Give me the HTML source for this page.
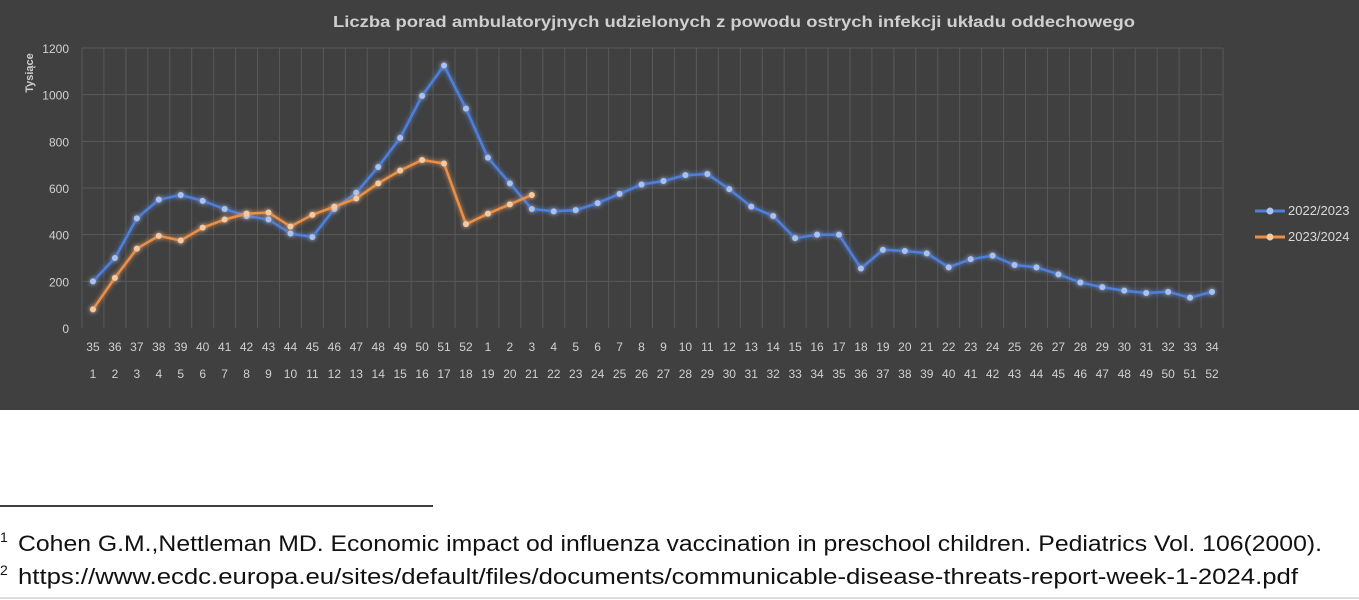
<!DOCTYPE html>
<html><head><meta charset="utf-8"><style>
html,body{margin:0;padding:0;background:#fff;width:1359px;height:600px;overflow:hidden}
svg{display:block}
</style></head><body>
<svg id="s" width="1359" height="600" xmlns="http://www.w3.org/2000/svg" font-family="Liberation Sans, sans-serif">
<defs><filter id="g" x="-5%" y="-5%" width="110%" height="110%"><feGaussianBlur stdDeviation="2.5" result="b"/><feMerge><feMergeNode in="b"/><feMergeNode in="SourceGraphic"/></feMerge></filter></defs>
<rect x="0" y="0" width="1359" height="410" fill="#404040"/>
<text x="333" y="27" fill="#cfcfcf" font-size="16" font-weight="bold" textLength="802" lengthAdjust="spacingAndGlyphs">Liczba porad ambulatoryjnych udzielonych z powodu ostrych infekcji układu oddechowego</text>
<text transform="translate(33,73) rotate(-90)" text-anchor="middle" fill="#cfcfcf" font-size="11" font-weight="bold">Tysiące</text>
<g id="grid"></g>
<g id="ser"></g>
<g font-size="13" fill="#d9d9d9">
<line x1="1255" y1="211" x2="1285" y2="211" stroke="#4f7fd8" stroke-width="3"/><circle cx="1270" cy="211" r="3.5" fill="#a9c1f0"/>
<text x="1288" y="215">2022/2023</text>
<line x1="1255" y1="237" x2="1285" y2="237" stroke="#e8904a" stroke-width="3"/><circle cx="1270" cy="237" r="3.5" fill="#f7c9a0"/>
<text x="1288" y="241">2023/2024</text>
</g>
<line x1="0" y1="506" x2="433" y2="506" stroke="#000" stroke-width="1.5"/>
<g font-size="22" fill="#111">
<text x="0" y="542" font-size="14">1</text>
<text x="18" y="551" textLength="1304" lengthAdjust="spacingAndGlyphs">Cohen G.M.,Nettleman MD. Economic impact od influenza vaccination in preschool children. Pediatrics Vol. 106(2000).</text>
<text x="0" y="575" font-size="14">2</text>
<text x="18" y="584" textLength="1280" lengthAdjust="spacingAndGlyphs">https://www.ecdc.europa.eu/sites/default/files/documents/communicable-disease-threats-report-week-1-2024.pdf</text>
</g>
<line x1="0" y1="598" x2="1359" y2="598" stroke="#bbb" stroke-width="1"/>
</svg>
<script>
var NS="http://www.w3.org/2000/svg";
function el(p,t,a,txt){var e=document.createElementNS(NS,t);for(var k in a)e.setAttribute(k,a[k]);if(txt!==undefined)e.textContent=txt;p.appendChild(e);return e;}
var grid=document.getElementById('grid'),ser=document.getElementById('ser');
var x0=82,x1=1223,n=52,dx=(x1-x0)/n;
function X(i){return x0+dx*(i+0.5);}
function Y(v){return 328-v*280/1200;}
for(var v=0;v<=1200;v+=200){
 if(v>0)el(grid,'line',{x1:x0,x2:x1,y1:Y(v),y2:Y(v),stroke:'#595959','stroke-width':1});
 el(grid,'text',{x:69,y:Y(v)+5,'text-anchor':'end',fill:'#d0d0d0','font-size':12},v);
}
for(var i=0;i<=n;i++)el(grid,'line',{x1:x0+dx*i,x2:x0+dx*i,y1:Y(1200),y2:328,stroke:'#595959','stroke-width':1});
var w1=[35,36,37,38,39,40,41,42,43,44,45,46,47,48,49,50,51,52,1,2,3,4,5,6,7,8,9,10,11,12,13,14,15,16,17,18,19,20,21,22,23,24,25,26,27,28,29,30,31,32,33,34];
for(var i=0;i<n;i++){
 el(grid,'text',{x:X(i),y:351,'text-anchor':'middle',fill:'#d0d0d0','font-size':12},w1[i]);
 el(grid,'text',{x:X(i),y:378,'text-anchor':'middle',fill:'#d0d0d0','font-size':12},i+1);
}
var b=[200,300,470,550,570,545,510,480,465,405,390,510,580,690,815,995,1125,940,730,620,510,500,505,535,575,615,630,655,660,595,520,480,385,400,400,255,335,330,320,260,295,310,270,260,230,195,175,160,150,155,130,155];
var o=[80,215,340,395,375,430,465,490,495,435,485,520,555,620,675,720,705,445,490,530,570];
function draw(d,c,f){
 var pts=d.map(function(v,i){return X(i).toFixed(1)+','+Y(v).toFixed(1)}).join(' ');
 var g=el(ser,'g',{filter:'url(#g)'});
 el(g,'polyline',{points:pts,fill:'none',stroke:c,'stroke-width':2.5,'stroke-linejoin':'round'});
 d.forEach(function(v,i){el(g,'circle',{cx:X(i),cy:Y(v),r:3,fill:f})});
}
draw(b,'#4f7fd8','#a9c1f0');
draw(o,'#e8904a','#f7c9a0');
</script>
</body></html>
